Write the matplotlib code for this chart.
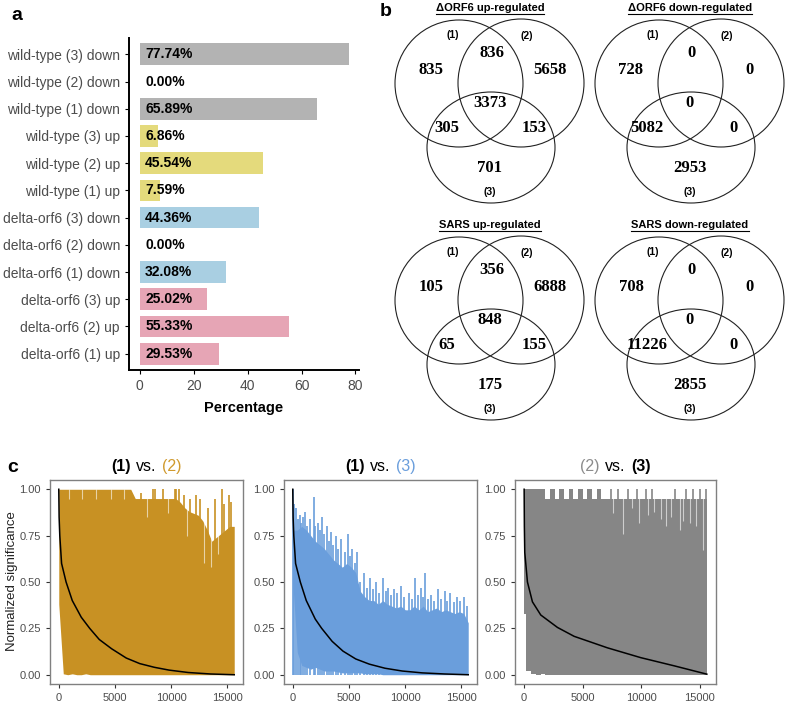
import numpy as np
import matplotlib
matplotlib.use("Agg")
import matplotlib.pyplot as plt
from matplotlib.patches import Ellipse
from matplotlib.offsetbox import TextArea, HPacker, AnchoredOffsetbox

plt.rcParams['font.family'] = ['Liberation Sans', 'DejaVu Sans']

# ---------------- panel a data (bottom to top)
bar_labels = ["delta-orf6 (1) up", "delta-orf6 (2) up", "delta-orf6 (3) up",
              "delta-orf6 (1) down", "delta-orf6 (2) down", "delta-orf6 (3) down",
              "wild-type (1) up", "wild-type (2) up", "wild-type (3) up",
              "wild-type (1) down", "wild-type (2) down", "wild-type (3) down"]
bar_values = [29.53, 55.33, 25.02, 32.08, 0.00, 44.36,
              7.59, 45.54, 6.86, 65.89, 0.00, 77.74]
bar_groups = ["d_up"] * 3 + ["d_down"] * 3 + ["wt_up"] * 3 + ["wt_down"] * 3
group_colors = {"d_up": "#E6A5B5", "d_down": "#A9CFE2",
                "wt_up": "#E4DA7C", "wt_down": "#B3B3B3"}

# ---------------- panel b data: only1, 1&2, only2, all, 1&3, 2&3, only3
venn_titles = ["\u0394ORF6 up-regulated", "\u0394ORF6 down-regulated",
               "SARS up-regulated", "SARS down-regulated"]
venn_counts = [
    [835, 836, 5658, 3373, 305, 153, 701],
    [728, 0, 0, 0, 5082, 0, 2953],
    [105, 356, 6888, 848, 65, 155, 175],
    [708, 0, 0, 0, 11226, 0, 2855],
]

# ---------------- panel c data (envelopes)
env_x = list(range(0, 15601, 400))

gold_base = [1.0, 1.0, 1.0, 1.0, 1.0, 1.0, 1.0, 1.0, 1.0, 1.0,
             1.0, 1.0, 1.0, 1.0, 1.0, 1.0, 1.0, 0.95, 0.95, 0.95,
             0.95, 0.95, 0.95, 0.95, 0.95, 0.95, 0.95, 0.93, 0.9, 0.88,
             0.87, 0.86, 0.83, 0.78, 0.72, 0.74, 0.76, 0.78, 0.8, 0.8]
gold_lower = [0.38, 0.005, 0.0, 0.005, 0.0, 0.0, 0.005, 0.0, 0.0, 0.0,
              0.0, 0.0, 0.0, 0.0, 0.0, 0.0, 0.0, 0.0, 0.0, 0.0,
              0.0, 0.0, 0.0, 0.0, 0.0, 0.0, 0.0, 0.0, 0.0, 0.0,
              0.0, 0.0, 0.0, 0.0, 0.0, 0.0, 0.0, 0.0, 0.0, 0.0]
gold_spike_x = [7300, 8400, 8550, 9300, 10300, 10450, 10650, 11100, 11700,
                12200, 12600, 13300, 13900, 14500, 14700, 15100, 15300]
gold_spike_h = [0.98, 1.0, 1.0, 1.0, 1.0, 1.0, 1.0, 0.97, 0.95,
                0.97, 0.95, 0.9, 0.95, 1.0, 0.92, 0.97, 0.93]
gold_gap_x = [900, 2100, 3300, 4600, 5800, 7800, 9700, 11400, 12900, 13500, 14200]
gold_gap_y = [0.95, 0.95, 0.95, 0.95, 0.95, 0.85, 0.87, 0.75, 0.6, 0.58, 0.65]

blue_base = [0.78, 0.78, 0.8, 0.78, 0.75, 0.72, 0.7, 0.68, 0.65, 0.62,
             0.6, 0.58, 0.6, 0.58, 0.55, 0.45, 0.42, 0.4, 0.4, 0.38,
             0.4, 0.38, 0.37, 0.36, 0.37, 0.35, 0.35, 0.37, 0.35, 0.37,
             0.34, 0.35, 0.36, 0.34, 0.35, 0.34, 0.33, 0.34, 0.33, 0.28]
blue_lower = [0.5, 0.12, 0.05, 0.04, 0.03, 0.04, 0.03, 0.02, 0.02, 0.02,
              0.015, 0.01, 0.01, 0.01, 0.01, 0.01, 0.005, 0.005, 0.005, 0.005,
              0.0, 0.0, 0.0, 0.0, 0.0, 0.0, 0.0, 0.0, 0.0, 0.0,
              0.0, 0.0, 0.0, 0.0, 0.0, 0.0, 0.0, 0.0, 0.0, 0.0]
blue_spike_x = [50, 150, 300, 450, 600, 750, 900, 1100, 1300, 1500, 1850, 2000, 2200,
                2400, 2600, 2800, 3000, 3200, 3400, 3600, 3800, 4050, 4300, 4600,
                4900, 5100, 5300, 5500, 5700, 6000, 6300, 6600, 6900, 7150, 7400,
                7700, 8000, 8250, 8500, 8750, 9000, 9300, 9600, 9900, 10300, 10600,
                10900, 11150, 11400, 11600, 11800, 12050, 12300, 12600, 12900, 13200,
                13500, 13750, 14000, 14300, 14600, 14900, 15200, 15450]
blue_spike_h = [1.0, 0.92, 0.9, 0.84, 0.86, 0.82, 0.85, 0.88, 0.8, 0.84, 0.96, 0.8, 0.82,
                0.78, 0.85, 0.76, 0.8, 0.72, 0.77, 0.7, 0.75, 0.68, 0.73, 0.66,
                0.76, 0.64, 0.68, 0.6, 0.66, 0.5, 0.55, 0.47, 0.52, 0.46, 0.5,
                0.44, 0.52, 0.45, 0.47, 0.43, 0.46, 0.44, 0.48, 0.42, 0.44, 0.41,
                0.52, 0.43, 0.47, 0.42, 0.55, 0.41, 0.43, 0.4, 0.46, 0.41,
                0.45, 0.4, 0.44, 0.39, 0.42, 0.4, 0.42, 0.37]

gray_base = [1.0, 1.0, 1.0, 1.0, 1.0, 0.95, 1.0, 0.95, 1.0, 0.95,
             1.0, 0.95, 1.0, 0.95, 1.0, 0.95, 1.0, 0.95, 0.95, 0.95,
             0.95, 0.95, 0.95, 0.95, 0.95, 0.95, 0.95, 0.95, 0.95, 0.95,
             0.95, 0.95, 0.95, 0.95, 0.95, 0.95, 0.95, 0.95, 0.95, 0.95]
gray_lower = [0.33, 0.02, 0.005, 0.0, 0.005, 0.0, 0.0, 0.0, 0.0, 0.0,
              0.0, 0.0, 0.0, 0.0, 0.0, 0.0, 0.0, 0.0, 0.0, 0.0,
              0.0, 0.0, 0.0, 0.0, 0.0, 0.0, 0.0, 0.0, 0.0, 0.0,
              0.0, 0.0, 0.0, 0.0, 0.0, 0.0, 0.0, 0.0, 0.0, 0.0]
gray_spike_x = [7400, 8000, 8900, 9600, 10400, 10900, 12900, 13800, 14400, 15000, 15500]
gray_spike_h = [1.0, 1.0, 1.0, 1.0, 1.0, 1.0, 1.0, 1.0, 1.0, 1.0, 1.0]
gray_gap_x = [7600, 8400, 9200, 9800, 10600, 11100, 11700, 12100, 12500, 13300,
              13600, 14200, 14700, 15300]
gray_gap_y = [0.87, 0.76, 0.9, 0.82, 0.86, 0.88, 0.84, 0.8, 0.85, 0.78,
              0.83, 0.82, 0.8, 0.67]

curve12_x = [0, 30, 90, 250, 650, 1200, 2000, 2750, 3600, 4700, 6000, 7200, 8500, 9800, 11500, 13500, 15600]
curve12_y = [1.0, 0.85, 0.75, 0.6, 0.5, 0.4, 0.31, 0.25, 0.19, 0.14, 0.09, 0.06, 0.04, 0.025, 0.012, 0.004, 0.0]
curve13_x = [0, 30, 90, 250, 670, 1200, 2000, 2570, 3500, 4470, 5600, 6810, 8200, 9730, 11500, 13500, 15600]
curve13_y = [1.0, 0.85, 0.75, 0.6, 0.5, 0.4, 0.3, 0.25, 0.18, 0.127, 0.085, 0.057, 0.035, 0.02, 0.01, 0.004, 0.0]
curve23_x = [0, 20, 53, 282, 709, 1420, 2845, 4270, 7114, 9960, 12810, 15600]
curve23_y = [1.0, 0.8, 0.66, 0.5, 0.393, 0.322, 0.255, 0.207, 0.145, 0.092, 0.048, 0.003]

W, H = 789, 705
fig = plt.figure(figsize=(W / 100, H / 100), dpi=100)


def px_axes(left, top, right, bottom):
    return fig.add_axes([left / W, 1 - bottom / H, (right - left) / W, (bottom - top) / H])


# ================= panel a
ax = px_axes(129, 38, 359, 370)
ypos = np.arange(len(bar_labels))
ax.barh(ypos, bar_values, height=0.8, color=[group_colors[g] for g in bar_groups])
for y, v in zip(ypos, bar_values):
    ax.text(2, y, "%.2f%%" % v, ha="left", va="center", fontsize=10, fontweight="bold")
ax.set_yticks(ypos)
ax.set_yticklabels(bar_labels, fontsize=10, color="#4D4D4D")
ax.set_xticks([0, 20, 40, 60, 80])
ax.tick_params(axis="x", labelsize=10, labelcolor="#4D4D4D", length=3)
ax.tick_params(axis="y", length=3)
ax.set_xlim(-4, 81.3)
ax.set_ylim(-0.6, 11.6)
for s in ["top", "right"]:
    ax.spines[s].set_visible(False)
for s in ["left", "bottom"]:
    ax.spines[s].set_linewidth(1.4)
ax.set_xlabel("Percentage", fontsize=10.5, fontweight="bold", labelpad=6)

# ================= overlay in pixel coords (labels + venns)
vax = fig.add_axes([0, 0, 1, 1])
vax.set_xlim(0, W)
vax.set_ylim(H, 0)
vax.axis("off")

vax.text(17, 15, "a", fontsize=14, fontweight="bold", ha="center", va="center")
vax.text(386, 12, "b", fontsize=14, fontweight="bold", ha="center", va="center")
vax.text(13, 468, "c", fontsize=14, fontweight="bold", ha="center", va="center")

circles = [((459, 83.5), 128, 127), ((521, 83), 126, 128), ((491, 147.5), 128, 111)]
count_pos = [(431, 70), (492, 53), (550, 70), (490, 103), (447, 128), (534, 128), (490, 168)]
set_pos = [("(1)", 453, 35), ("(2)", 527, 36), ("(3)", 490, 192)]
offsets = [(0, 0), (200, 0), (0, 217), (200, 217)]

title_texts = []
for (dx, dy), title, counts in zip(offsets, venn_titles, venn_counts):
    for (cx, cy), w, h in circles:
        vax.add_patch(Ellipse((cx + dx, cy + dy), w, h, fill=False, lw=0.8, ec="#222222"))
    for (px, py), n in zip(count_pos, counts):
        vax.text(px + dx, py + dy, str(n), ha="center", va="center", fontsize=12,
                 fontweight="bold", family=["Liberation Serif", "DejaVu Serif"])
    for s, px, py in set_pos:
        vax.text(px + dx, py + dy, s, ha="center", va="center", fontsize=7.5, fontweight="bold")
    t = vax.text(490 + dx, 8 + dy, title, ha="center", va="center", fontsize=8, fontweight="bold")
    title_texts.append(t)

fig.canvas.draw()
inv = vax.transData.inverted()
for t in title_texts:
    bb = t.get_window_extent()
    (x0, y0), (x1, y1) = inv.transform([[bb.x0, bb.y0], [bb.x1, bb.y1]])
    vax.plot([x0, x1], [max(y0, y1) + 0.5] * 2, color="black", lw=0.8)

# ================= panel c
panels = [
    ((50, 243), gold_base, gold_lower, None, gold_spike_x, gold_spike_h, gold_gap_x, gold_gap_y,
     "#C89123", curve12_x, curve12_y,
     [("(1)", "black", "bold"), ("vs.", "black", "normal"), ("(2)", "#D09A2E", "normal")]),
    ((284, 477), blue_base, blue_lower, None, blue_spike_x, blue_spike_h, [], [],
     "#6A9EDC", curve13_x, curve13_y,
     [("(1)", "black", "bold"), ("vs.", "black", "normal"), ("(3)", "#6A9EDC", "normal")]),
    ((515, 716), gray_base, gray_lower, "mid", gray_spike_x, gray_spike_h, gray_gap_x, gray_gap_y,
     "#868686", curve23_x, curve23_y,
     [("(2)", "#8C8C8C", "normal"), ("vs.", "black", "normal"), ("(3)", "black", "bold")]),
]
for (l, r), up, lo, step, sx, sh, gx, gy, col, cx, cy, parts in panels:
    axc = px_axes(l, 480, r, 684)
    axc.fill_between(env_x, lo, up, step=step, color=col, lw=0)
    axc.vlines(sx, 0, sh, color=col, lw=1.2)
    if gx:
        axc.vlines(gx, gy, 1.0, color="white", lw=0.8, alpha=0.6)
    axc.plot(cx, cy, color="black", lw=1.1)
    axc.set_xlim(-780, 16380)
    axc.set_ylim(-0.05, 1.05)
    axc.set_xticks([0, 5000, 10000, 15000])
    axc.set_yticks([0, 0.25, 0.5, 0.75, 1.0])
    axc.set_yticklabels(["0.00", "0.25", "0.50", "0.75", "1.00"])
    axc.tick_params(labelsize=8, labelcolor="#4D4D4D", length=3, color="#333333")
    for s in axc.spines.values():
        s.set_color("#808080")
        s.set_linewidth(1.0)
    boxes = [TextArea(s, textprops=dict(color=c, fontweight=fw, fontsize=11.5)) for s, c, fw in parts]
    pack = HPacker(children=boxes, align="baseline", pad=0, sep=4)
    ab = AnchoredOffsetbox(loc="lower center", child=pack, pad=0, borderpad=0, frameon=False,
                           bbox_to_anchor=(0.5, 1.03), bbox_transform=axc.transAxes)
    axc.add_artist(ab)

fig.text(12 / W, 1 - 581 / H, "Normalized significance", rotation=90,
         ha="center", va="center", fontsize=9.5, color="#222222")

fig.savefig("out.png", dpi=100)
